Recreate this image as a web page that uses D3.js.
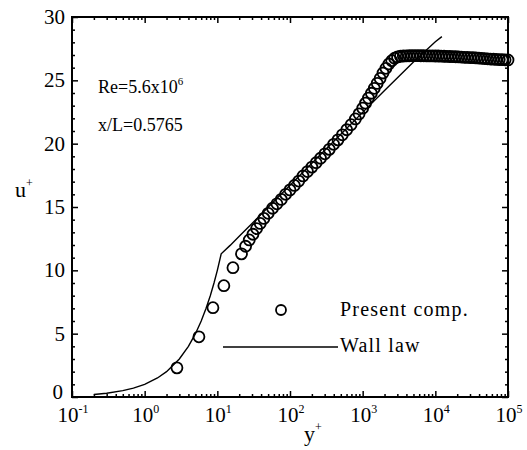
<!DOCTYPE html>
<html>
<head>
<meta charset="utf-8">
<script src="https://cdn.jsdelivr.net/npm/d3@7"></script>
<style>
  html, body { margin: 0; padding: 0; background: #fff; }
  svg { display: block; }
  text { font-family: "Liberation Serif", "Times New Roman", serif; fill: #000; }
</style>
</head>
<body>
<script>
// ---- data ----
const xTickExps = [-1, 0, 1, 2, 3, 4, 5];
const yTicks = [0, 5, 10, 15, 20, 25, 30];

// Present computation (open circles)
const compYPlus = [2.78, 5.58, 8.7, 12.3, 16.4, 21.5,
  24.5, 27.5, 30.9, 34.7, 38.9, 43.7, 50.1, 57.5, 66.1, 75.9, 87.1, 100, 115,
  132, 151, 174, 200, 229, 263, 302, 347, 398, 457, 525, 603, 692, 794, 891,
  1000, 1096, 1202, 1318, 1445, 1585, 1738, 1905, 2089, 2291, 2512, 2754, 3020, 3311, 3631,
  3981, 4365, 4786, 5248, 5754, 6310, 6918, 7586, 8318, 9120, 10000, 10965, 12023,
  13183, 14454, 15849, 17378, 19055, 20893, 22909, 25119, 27542, 30200, 33113,
  36308, 39811, 43652, 47863, 52481, 57544, 63096, 69183, 75858, 83176, 91201, 100000];
const compU = [2.30, 4.75, 7.05, 8.79, 10.21, 11.3,
  11.9, 12.4, 12.85, 13.3, 13.7, 14.1, 14.5, 14.9, 15.25, 15.6, 16.0, 16.35, 16.7,
  17.05, 17.45, 17.8, 18.15, 18.5, 18.85, 19.2, 19.55, 19.95, 20.3, 20.7, 21.1, 21.5, 21.95, 22.35,
  22.8, 23.2, 23.6, 23.98, 24.37, 24.76, 25.15, 25.58, 25.95, 26.29, 26.55, 26.75, 26.85, 26.90, 26.92,
  26.93, 26.94, 26.95, 26.95, 26.95, 26.94, 26.94, 26.93, 26.93, 26.93, 26.92, 26.92, 26.91,
  26.90, 26.89, 26.88, 26.87, 26.86, 26.85, 26.84, 26.82, 26.81, 26.80, 26.79,
  26.77, 26.76, 26.74, 26.72, 26.70, 26.68, 26.67, 26.65, 26.64, 26.63, 26.62, 26.61];

// Wall law (solid line)
const wallYPlus = [0.2, 0.3, 0.5, 0.7, 1, 1.5, 2, 3, 4, 5, 6, 7, 8, 9, 10, 11.3,
  15, 20, 30, 50, 100, 200, 500, 1000, 2000, 5000, 10000, 12300];
const wallU = [0.2, 0.3, 0.5, 0.7, 1, 1.5, 2, 3, 4, 5, 6, 7, 8, 9, 10, 11.3,
  11.97, 12.69, 13.70, 14.98, 16.71, 18.45, 20.74, 22.47, 24.20, 26.45, 28.05, 28.45];

const legendLabels = ["Present comp.", "Wall law"];
const annotation = ["Re=5.6x10", "6", "x/L=0.5765"];

// ---- chart ----
const W = 527, H = 450;
const L = 72, R = 508, T = 17, B = 397;

const svg = d3.select("body").append("svg").attr("width", W).attr("height", H);

const x = d3.scaleLog().domain([0.1, 1e5]).range([L, R]);
const y = d3.scaleLinear().domain([0, 30]).range([B, T]);

const xMajor = xTickExps.map(e => Math.pow(10, e));
const xMinor = [];
for (let i = 0; i < xMajor.length - 1; i++) {
  for (let k = 2; k <= 9; k++) xMinor.push(xMajor[i] * k);
}
const yMinor = d3.range(0, 31, 1).filter(v => v % 5 !== 0);

const axisStyle = g => {
  g.select(".domain").remove();
  g.selectAll(".tick line").attr("stroke", "#000").attr("stroke-width", 1.5);
  g.selectAll(".tick text").remove();
};

// bottom & top ticks (inward)
svg.append("g").attr("transform", `translate(0,${B})`)
  .call(d3.axisBottom(x).tickValues(xMajor).tickSize(-6)).call(axisStyle);
svg.append("g").attr("transform", `translate(0,${B})`)
  .call(d3.axisBottom(x).tickValues(xMinor).tickSize(-3)).call(axisStyle);
svg.append("g").attr("transform", `translate(0,${T})`)
  .call(d3.axisTop(x).tickValues(xMajor).tickSize(-6)).call(axisStyle);
svg.append("g").attr("transform", `translate(0,${T})`)
  .call(d3.axisTop(x).tickValues(xMinor).tickSize(-3)).call(axisStyle);

// left & right ticks (inward)
svg.append("g").attr("transform", `translate(${L},0)`)
  .call(d3.axisLeft(y).tickValues(yTicks).tickSize(-6)).call(axisStyle);
svg.append("g").attr("transform", `translate(${L},0)`)
  .call(d3.axisLeft(y).tickValues(yMinor).tickSize(-3)).call(axisStyle);
svg.append("g").attr("transform", `translate(${R},0)`)
  .call(d3.axisRight(y).tickValues(yTicks).tickSize(-6)).call(axisStyle);
svg.append("g").attr("transform", `translate(${R},0)`)
  .call(d3.axisRight(y).tickValues(yMinor).tickSize(-3)).call(axisStyle);

// frame
svg.append("rect").attr("x", L).attr("y", T).attr("width", R - L).attr("height", B - T)
  .attr("fill", "none").attr("stroke", "#000").attr("stroke-width", 2);

// y tick labels
svg.append("g").selectAll("text").data(yTicks).join("text")
  .attr("x", d => d === 0 ? L - 9 : L - 7)
  .attr("y", d => d === 0 ? y(d) + 2 : y(d) + 7)
  .attr("text-anchor", "end").attr("font-size", 21)
  .text(d => d);

// x tick labels with superscript
const xl = svg.append("g").selectAll("text").data(xTickExps).join("text")
  .attr("x", d => x(Math.pow(10, d)) + 1).attr("y", B + 25)
  .attr("text-anchor", "middle").attr("font-size", 21);
xl.append("tspan").text("10");
xl.append("tspan").attr("dy", -9).attr("font-size", 12).text(d => d);

// axis titles
const yt = svg.append("text").attr("x", 15).attr("y", 197).attr("font-size", 22);
yt.append("tspan").text("u");
yt.append("tspan").attr("dy", -10).attr("font-size", 12).text("+");
const xt = svg.append("text").attr("x", 304).attr("y", 441).attr("font-size", 22);
xt.append("tspan").text("y");
xt.append("tspan").attr("dy", -10).attr("font-size", 12).text("+");

// wall law line
const wallData = wallYPlus.map((v, i) => [v, wallU[i]]);
svg.append("path").datum(wallData)
  .attr("fill", "none").attr("stroke", "#000").attr("stroke-width", 1.4)
  .attr("d", d3.line().x(d => x(d[0])).y(d => y(d[1])));

// computation circles
const compData = compYPlus.map((v, i) => [v, compU[i]]);
svg.append("g").selectAll("circle").data(compData).join("circle")
  .attr("cx", d => x(d[0])).attr("cy", d => y(d[1])).attr("r", 5.5)
  .attr("fill", "none").attr("stroke", "#000").attr("stroke-width", 1.8);

// annotation
const a1 = svg.append("text").attr("x", 98).attr("y", 93).attr("font-size", 18);
a1.append("tspan").text(annotation[0]);
a1.append("tspan").attr("dy", -8).attr("font-size", 11).text(annotation[1]);
svg.append("text").attr("x", 98).attr("y", 131).attr("font-size", 18).text(annotation[2]);

// legend
svg.append("circle").attr("cx", 281).attr("cy", 310).attr("r", 5)
  .attr("fill", "none").attr("stroke", "#000").attr("stroke-width", 1.8);
svg.append("text").attr("x", 340).attr("y", 316).attr("font-size", 20)
  .attr("letter-spacing", 1.2).text(legendLabels[0]);
svg.append("line").attr("x1", 223).attr("x2", 338).attr("y1", 347).attr("y2", 347)
  .attr("stroke", "#000").attr("stroke-width", 1.4);
svg.append("text").attr("x", 340).attr("y", 352).attr("font-size", 20)
  .attr("letter-spacing", 1.2).text(legendLabels[1]);
</script>
</body>
</html>
